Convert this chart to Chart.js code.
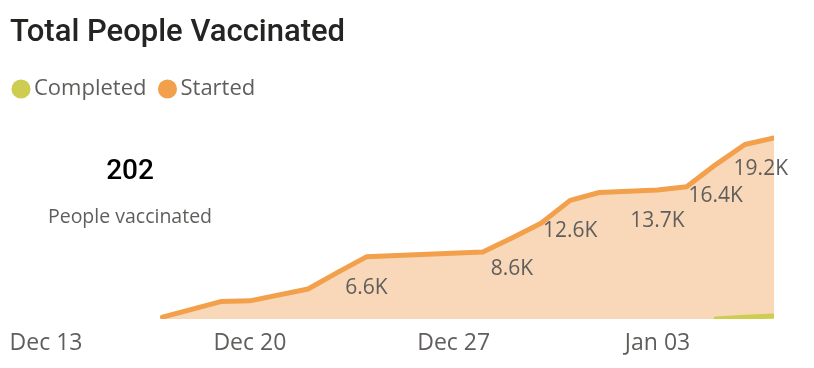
<!DOCTYPE html>
<html>
<head>
<meta charset="utf-8">
<script src="https://cdn.jsdelivr.net/npm/chart.js@4.4.1/dist/chart.umd.min.js"></script>
<style>
  html, body { margin: 0; padding: 0; background: #fff; }
  #wrap { position: relative; width: 814px; height: 368px; overflow: hidden; }
  #title { position: absolute; left: 10px; top: 13px; font: 500 31px Roboto; color: #252423; line-height: 36px; white-space: nowrap; }
  #card { position: absolute; left: 30px; top: 153px; width: 200px; text-align: center; }
  #card .num { font: 500 28px Roboto; color: #000; line-height: 34px; }
  #card .cap { font: 400 19.5px "Open Sans"; color: #605E5C; line-height: 26px; margin-top: 16px; }
  canvas { position: absolute; left: 0; top: 0; }
</style>
</head>
<body>
<div id="wrap">
  <canvas id="myChart" width="814" height="368"></canvas>
  <div id="title">Total People Vaccinated</div>
  <div id="card"><div class="num">202</div><div class="cap">People vaccinated</div></div>
</div>
<script>
// days counted from Dec 13
const tickDays = [0, 7, 14, 21];
const tickLabels = ["Dec 13", "Dec 20", "Dec 27", "Jan 03"];

const startedDays = [4, 6, 7, 9, 10, 11, 15, 16, 17, 18, 19, 21, 22, 23, 24, 25];
const startedValues = [200, 1850, 1930, 3190, 4930, 6600, 7120, 8600, 10170, 12600, 13440, 13700, 14040, 16400, 18530, 19240];
const labelledDays = [11, 16, 18, 21, 23, 25];

const completedDays = [23, 24, 25];
const completedValues = [0, 180, 330];

const ORANGE = "#F2A04B";
const GREEN = "#CDCD52";

const toPoints = (days, values) => days.map((d, i) => ({ x: d, y: values[i] }));

// labels under the Started line, like "6.6K"
const pointLabels = {
  id: "pointLabels",
  afterDatasetsDraw(chart) {
    const meta = chart.getDatasetMeta(1);
    const ctx = chart.ctx;
    const area = chart.chartArea;
    ctx.save();
    ctx.font = '21px "Open Sans"';
    ctx.fillStyle = "#605E5C";
    ctx.textAlign = "center";
    ctx.textBaseline = "middle";
    meta.data.forEach((pt, i) => {
      if (!labelledDays.includes(startedDays[i])) return;
      const text = (startedValues[i] / 1000).toFixed(1) + "K";
      const w = ctx.measureText(text).width;
      let x = pt.x;
      if (x + w / 2 > area.right + 14) x = area.right + 14 - w / 2;
      ctx.fillText(text, x, pt.y + 31);
    });
    ctx.restore();
  },
};

new Chart(document.getElementById("myChart"), {
  type: "line",
  data: {
    datasets: [
      {
        label: "Completed",
        data: toPoints(completedDays, completedValues),
        borderColor: GREEN,
        backgroundColor: GREEN,
        borderWidth: 5,
        borderCapStyle: "round",
        borderJoinStyle: "round",
        pointRadius: 0,
        fill: false,
      },
      {
        label: "Started",
        data: toPoints(startedDays, startedValues),
        borderColor: ORANGE,
        backgroundColor: "#F8D8B8",
        borderWidth: 5,
        borderCapStyle: "round",
        borderJoinStyle: "round",
        pointRadius: 0,
        fill: "origin",
      },
    ],
  },
  options: {
    responsive: false,
    animation: false,
    devicePixelRatio: 1,
    layout: { padding: { left: 0, right: 40, top: 59, bottom: 0 } },
    plugins: {
      tooltip: { enabled: false },
      legend: {
        align: "start",
        labels: {
          usePointStyle: true,
          pointStyle: "circle",
          boxWidth: 4,
          boxHeight: 13.5,
          padding: 19,
          color: "#605E5C",
          font: { family: "Open Sans", size: 22 },
          generateLabels(chart) {
            const items = Chart.defaults.plugins.legend.labels.generateLabels(chart);
            items.forEach((it) => {
              it.fillStyle = chart.data.datasets[it.datasetIndex].borderColor;
              it.strokeStyle = it.fillStyle;
              it.lineWidth = 0;
            });
            return items;
          },
        },
      },
    },
    scales: {
      x: {
        type: "linear",
        min: 0,
        max: 25,
        grid: { display: false },
        border: { display: false },
        afterBuildTicks(scale) {
          scale.ticks = tickDays.map((v) => ({ value: v }));
        },
        afterFit(scale) {
          scale.paddingLeft = 46;
          scale.height = 49;
        },
        ticks: {
          padding: 3,
          maxRotation: 0,
          color: "#605E5C",
          font: { family: "Open Sans", size: 23 },
          callback: (v) => tickLabels[tickDays.indexOf(v)],
        },
      },
      y: {
        display: false,
        min: 0,
        max: 22200,
      },
    },
  },
  plugins: [pointLabels],
});
</script>
</body>
</html>
